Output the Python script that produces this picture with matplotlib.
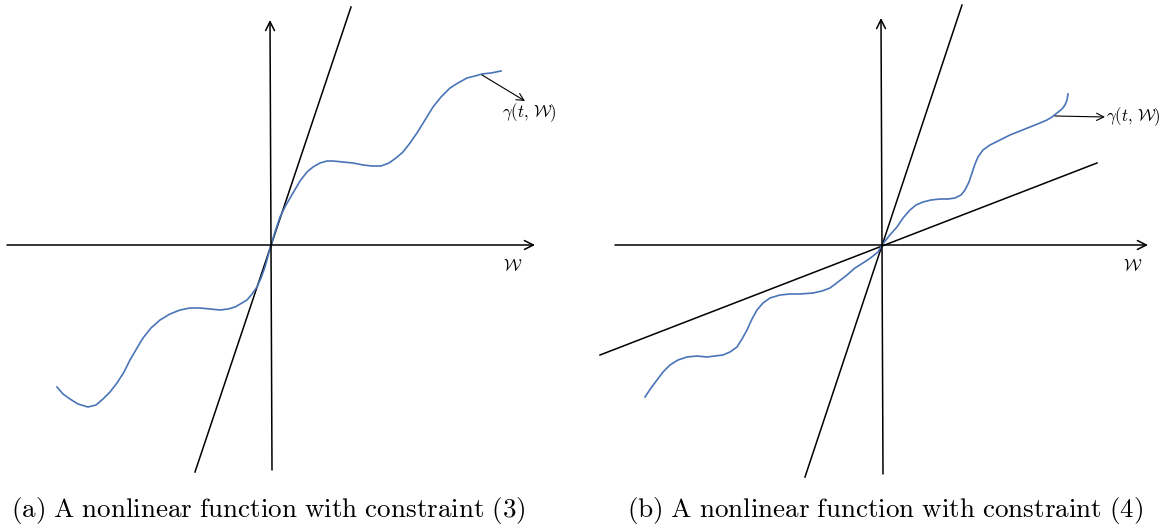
import matplotlib.pyplot as plt

plt.rcParams['mathtext.fontset'] = 'cm'

# figure is drawn in pixel units of the original picture (x right, y down)
blue = '#4a74b8'

# panel (a)
axis_a_h = [(7, 245), (535, 245)]
axis_a_v = [(272, 470), (270, 20)]
steep_a_x = [195, 351]
steep_a_y = [472, 7]
curve_a_x = [57, 63, 70, 78, 88, 96, 103, 110, 117, 124, 130, 137, 143, 151, 160, 170, 180, 190,
             200, 210, 220, 228, 235, 242, 247, 252, 257, 261, 265, 268, 271,
             275, 280, 286, 293, 300, 307, 313, 320, 327, 333, 343, 353, 363, 372, 381, 389, 396,
             403, 410, 417, 425, 433, 441, 450, 458, 467, 475, 482, 491, 501]
curve_a_y = [387, 394, 399, 404, 407, 405, 399, 392, 383, 372, 360, 348, 338, 328, 320, 314, 310, 308,
             308, 309, 310, 309, 307, 303, 300, 294, 287, 278, 267, 256, 245,
             232, 217, 205, 193, 181, 172, 167, 163, 161, 161, 162, 163, 165, 166, 166, 163, 158,
             152, 143, 133, 120, 107, 97, 88, 83, 78, 76, 74, 73, 71]

# panel (b)
axis_b_h = [(615, 245), (1148, 245)]
axis_b_v = [(883, 474), (881, 18)]
steep_b_x = [805, 962]
steep_b_y = [477, 5]
shallow_b_x = [600, 1097]
shallow_b_y = [355, 163]
curve_b_x = [645, 651, 657, 663, 670, 678, 687, 697, 707, 715, 723, 730, 737, 742, 747, 752, 757, 763,
             770, 780, 790, 800, 813, 822, 830, 838, 847, 855, 863, 869, 873, 878, 882,
             889, 897, 903, 910, 916, 923, 931, 940, 948, 955, 961, 965, 969, 972, 975, 978, 983,
             990, 1000, 1010, 1020, 1030, 1040, 1047, 1052, 1057, 1062, 1065, 1067, 1068]
curve_b_y = [397, 388, 380, 372, 365, 360, 357, 356, 357, 356, 355, 352, 347, 339, 330, 319, 310, 303,
             298, 295, 294, 294, 293, 291, 288, 282, 275, 268, 263, 259, 256, 252, 245,
             236, 227, 218, 210, 205, 202, 200, 199, 199, 198, 195, 190, 182, 173, 164, 157, 150,
             145, 140, 135, 131, 127, 123, 120, 117, 113, 109, 105, 100, 94]

captions = ['(a) A nonlinear function with constraint (3)',
            '(b) A nonlinear function with constraint (4)']

fig = plt.figure(figsize=(11.64, 5.27), dpi=100)
ax = fig.add_axes([0, 0, 1, 1])
ax.set_xlim(0, 1164)
ax.set_ylim(527, 0)
ax.axis('off')

arrow = dict(arrowstyle='->', lw=1.1, color='black', mutation_scale=16, shrinkA=0, shrinkB=0)
for a in [axis_a_h, axis_a_v, axis_b_h, axis_b_v]:
    ax.annotate('', xy=a[1], xytext=a[0], arrowprops=arrow)

ax.plot(steep_a_x, steep_a_y, color='black', lw=1.1)
ax.plot(steep_b_x, steep_b_y, color='black', lw=1.1)
ax.plot(shallow_b_x, shallow_b_y, color='black', lw=1.1)

ax.plot(curve_a_x, curve_a_y, color=blue, lw=1.2, solid_joinstyle='round')
ax.plot(curve_b_x, curve_b_y, color=blue, lw=1.2, solid_joinstyle='round')

small = dict(arrowstyle='->', lw=0.8, color='black', mutation_scale=13, shrinkA=0, shrinkB=0)
ax.annotate('', xy=(525, 101), xytext=(482, 75), arrowprops=small)
ax.annotate('', xy=(1105, 117), xytext=(1055, 116), arrowprops=small)

ax.text(529, 113, r'$\gamma(t,\,\mathcal{W})$', fontsize=12, ha='center', va='center')
ax.text(1106, 117, r'$\gamma(t,\,\mathcal{W})$', fontsize=12, ha='left', va='center')
ax.text(513, 266, r'$\mathcal{W}$', fontsize=12, ha='center', va='center')
ax.text(1133, 266, r'$\mathcal{W}$', fontsize=12, ha='center', va='center')

for cx, cap in zip([268, 885], captions):
    ax.text(cx, 510, r'$\mathrm{' + cap.replace(' ', r'\ ') + '}$', fontsize=19.5,
            ha='center', va='center')

fig.savefig('out.png', dpi=100)
